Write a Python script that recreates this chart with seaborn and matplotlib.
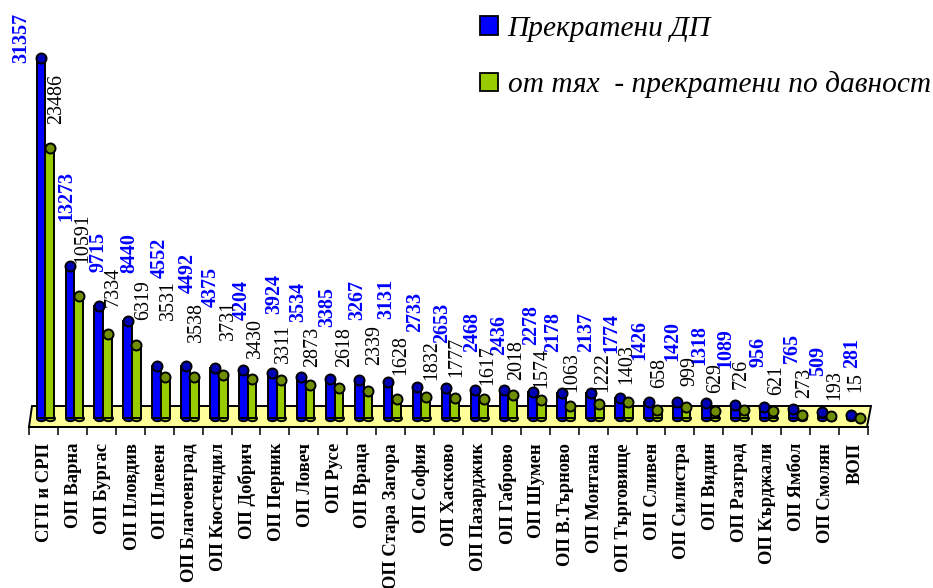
import matplotlib
matplotlib.use("Agg")
import matplotlib.pyplot as plt
from matplotlib.patches import Polygon
from matplotlib.path import Path
from matplotlib.transforms import Affine2D
import pandas as pd
import seaborn as sns

W, H = 933, 588

categories = ["СГП и СРП", "ОП Варна", "ОП Бургас", "ОП Пловдив", "ОП Плевен", "ОП Благоевград",
              "ОП Кюстендил", "ОП Добрич", "ОП Перник", "ОП Ловеч", "ОП Русе", "ОП Враца",
              "ОП Стара Загора", "ОП София", "ОП Хасково", "ОП Пазарджик", "ОП Габрово", "ОП Шумен",
              "ОП В.Търново", "ОП Монтана", "ОП Търговище", "ОП Сливен", "ОП Силистра", "ОП Видин",
              "ОП Разград", "ОП Кърджали", "ОП Ямбол", "ОП Смолян", "ВОП"]
terminated = [31357, 13273, 9715, 8440, 4552, 4492, 4375, 4204, 3924, 3534, 3385, 3267, 3131, 2733, 2653,
              2468, 2436, 2278, 2178, 2137, 1774, 1426, 1420, 1318, 1089, 956, 765, 509, 281]
expired = [23486, 10591, 7334, 6319, 3531, 3538, 3731, 3430, 3311, 2873, 2618, 2339, 1628, 1832, 1777,
           1617, 2018, 1574, 1063, 1222, 1403, 658, 999, 629, 726, 621, 273, 193, 15]
series_names = ["Прекратени ДП", "от тях  - прекратени по давност"]

# label placement in the picture (pixels from the top-left corner)
blue_label_x = [21, 66, 99, 129, 160, 188, 211, 242, 274, 298, 327, 357, 386, 415, 442,
                472, 499, 531, 553, 586, 611, 639, 672, 699, 725, 758, 792, 818, 852]
blue_label_bottom = [63, 221, 272, 273, 278, 293, 307, 320, 314, 322, 327, 320, 319, 332, 343,
                     352, 355, 345, 352, 352, 353, 360, 361, 365, 368, 367, 363, 376, 368]
green_label_x = [57, 83, 113, 144, 168, 196, 228, 255, 283, 313, 345, 375, 401, 432, 457,
                 488, 517, 542, 572, 603, 627, 660, 690, 716, 741, 777, 805, 835, 856]
green_label_bottom = [124, 263, 307, 320, 320, 342, 340, 358, 363, 367, 367, 365, 375, 380, 377,
                      385, 380, 388, 392, 392, 384, 388, 386, 393, 389, 395, 398, 400, 392]

BLUE, GREEN = "#0000ff", "#99cc00"
BLUE_CAP, GREEN_CAP = "#0000b4", "#6f8f00"

df = pd.DataFrame({
    "category": categories * 2,
    "value": terminated + expired,
    "series": [series_names[0]] * len(categories) + [series_names[1]] * len(categories),
})

sns.set_theme(style="white")
plt.rcParams["font.family"] = ["Liberation Serif", "DejaVu Serif"]

fig = plt.figure(figsize=(W / 100, H / 100), dpi=100, facecolor="white")
left, right, bottom_px = 29, 868, 427
ax = fig.add_axes([left / W, 1 - bottom_px / H, (right - left) / W, bottom_px / H])
ax.patch.set_alpha(0)

sns.barplot(data=df, x="category", y="value", hue="series", order=categories, hue_order=series_names,
            palette=[BLUE, GREEN], width=0.6, gap=0, edgecolor="black", linewidth=1.4,
            saturation=1, ax=ax, zorder=3)

px_per_cat = (right - left) / len(categories)
xmin = -(45.3 - left) / px_per_cat
ax.set_xlim(xmin, xmin + len(categories))
px_per_val = 360 / 31357
ax.set_ylim(-(bottom_px - 418) / px_per_val, 418 / px_per_val)

ax.set_xlabel("")
ax.set_ylabel("")
ax.set_yticks([])
for s in ["top", "left", "right"]:
    ax.spines[s].set_visible(False)
ax.spines["bottom"].set_color("black")
ax.spines["bottom"].set_linewidth(1.4)

ax.set_xticks([i - 0.02 for i in range(len(categories))])
ax.set_xticklabels(categories, rotation=90, fontweight="bold", fontsize=13.4, color="black")
ax.tick_params(axis="x", which="major", length=0, pad=11.5)
ax.set_xticks([xmin + i for i in range(len(categories) + 1)], minor=True)
ax.tick_params(axis="x", which="minor", length=5.8, width=1.1, color="black", bottom=True)

floor_px = [(29, 427), (32, 406), (871, 406), (867, 427)]
floor = Polygon([((x - left) / (right - left), (bottom_px - y) / bottom_px) for x, y in floor_px],
                closed=True, transform=ax.transAxes, facecolor="#ffff99", edgecolor="black",
                linewidth=1.4, zorder=1, clip_on=False)
ax.add_patch(floor)

flat = Path.unit_circle().transformed(Affine2D().scale(1, 0.6))

for container, values, face, cap, lx, lb, col, weight in [
    (ax.containers[0], terminated, BLUE, BLUE_CAP, blue_label_x, blue_label_bottom, BLUE, "bold"),
    (ax.containers[1], expired, GREEN, GREEN_CAP, green_label_x, green_label_bottom, "black", "normal"),
]:
    xs = [p.get_x() + p.get_width() / 2 for p in container.patches]
    ax.scatter(xs, [0] * len(xs), s=42, marker=flat, color=face, edgecolor="black", linewidth=1.4,
               zorder=2.5, clip_on=False)
    ax.scatter(xs, values, s=52, color=cap, edgecolor="black", linewidth=1.4, zorder=4, clip_on=False)
    for x, v, px, py in zip(xs, values, lx, lb):
        ax.annotate(str(v), xy=(x, v), xytext=(px, H - py), textcoords="figure pixels",
                    rotation=90, ha="center", va="bottom", fontsize=14.4, color=col,
                    fontweight=weight, annotation_clip=False, zorder=5)

leg = ax.legend(loc="upper left", bbox_to_anchor=(474 / W, 1 - 10 / H), bbox_transform=fig.transFigure,
                frameon=False, prop={"family": "Liberation Serif", "style": "italic", "size": 21.2},
                handlelength=0.6, handleheight=0.6, handletextpad=0.34, labelspacing=1.0,
                borderpad=0.2, borderaxespad=0, labelcolor="black")
for h in leg.get_patches():
    h.set_edgecolor("black")
    h.set_linewidth(1.3)

fig.savefig("out.png", dpi=100, facecolor="white")
